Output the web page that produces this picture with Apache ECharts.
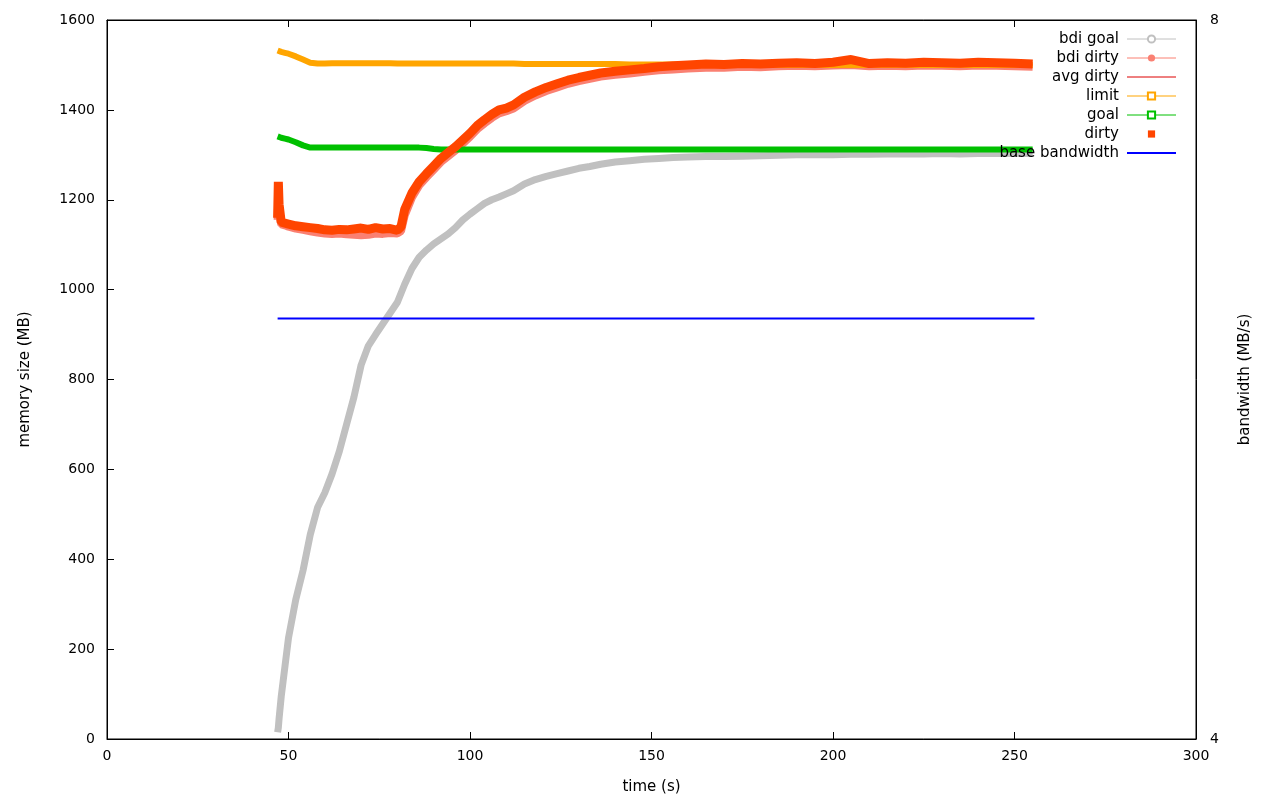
<!DOCTYPE html>
<html>
<head>
<meta charset="utf-8">
<script src="https://cdn.jsdelivr.net/npm/echarts@6/dist/echarts.min.js"></script>
<style>
html,body{margin:0;padding:0;background:#fff;}
#chart{width:1280px;height:800px;}
</style>
</head>
<body>
<div id="chart"></div>
<script>
// time stamps (s)
const times = [47, 47.2, 47.4, 48, 49, 50,
  52, 54, 56, 58, 60, 62, 64, 66, 68, 70, 72, 74, 76, 78, 80,
  81,
  82, 84, 86, 88, 90, 92, 94, 96, 98, 100, 102, 104, 106, 108, 110, 112,
  115, 118, 121, 124, 127, 130, 133, 136,
  140, 144, 148, 152, 156, 160,
  165, 170, 175, 180, 185, 190, 195, 200, 205, 210, 215, 220, 225, 230, 235, 240, 245, 250, 255];

// memory size (MB)
const bdiGoal = [15, 25, 45, 95, 160, 225,
  310, 375, 455, 515, 548, 590, 640, 700, 760, 832, 875, 900, 924, 948, 972,
  992,
  1012, 1047, 1072, 1088, 1102, 1113, 1124, 1138, 1155, 1168, 1180, 1192, 1200, 1206, 1213, 1220,
  1235, 1245, 1252, 1258, 1264, 1270, 1274, 1279,
  1284, 1287, 1290, 1292, 1294, 1295,
  1296, 1296, 1297, 1298, 1299, 1300, 1300, 1300, 1301, 1301, 1302, 1302, 1302, 1303, 1302, 1303, 1303, 1303, 1303];

const bdiDirty = [1155, 1200, 1170, 1145, 1143, 1140,
  1136, 1133, 1130, 1127, 1125, 1124, 1125, 1123, 1122, 1121, 1122, 1125, 1124, 1126, 1125,
  1130,
  1165, 1205, 1232, 1250, 1267, 1284, 1297, 1310, 1325, 1340, 1357, 1370, 1382, 1392, 1397, 1403,
  1420, 1432, 1442, 1450, 1458, 1464, 1469, 1474,
  1478, 1481, 1485, 1488, 1490, 1492,
  1494, 1494, 1496, 1495, 1497, 1498, 1497, 1499, 1500, 1497, 1498, 1497, 1499, 1498, 1497, 1499, 1498, 1497, 1496];

const avgDirty = [1158, 1200, 1175, 1148, 1146, 1144,
  1140, 1138, 1136, 1134, 1132, 1131, 1132, 1131, 1132, 1133, 1132, 1134, 1133, 1134, 1132,
  1138,
  1172, 1210, 1236, 1255, 1272, 1289, 1302, 1315, 1330, 1345, 1362, 1375, 1387, 1397, 1402, 1408,
  1425, 1437, 1447, 1455, 1463, 1469, 1474, 1479,
  1483, 1486, 1490, 1493, 1495, 1497,
  1499, 1499, 1500, 1500, 1501, 1502, 1501, 1503, 1505, 1501, 1502, 1501, 1503, 1502, 1501, 1503, 1502, 1501, 1500];

const limit = [1532, 1531, 1531, 1529, 1527, 1525,
  1519, 1512, 1505, 1503, 1503, 1504, 1504, 1504, 1504, 1504, 1504, 1504, 1504, 1504, 1503,
  1503,
  1503, 1503, 1503, 1503, 1503, 1503, 1503, 1503, 1503, 1503, 1503, 1503, 1503, 1503, 1503, 1503,
  1502, 1502, 1502, 1502, 1502, 1502, 1502, 1502,
  1502, 1501, 1501, 1501, 1501, 1501,
  1501, 1501, 1500, 1500, 1500, 1500, 1500, 1500, 1500, 1500, 1500, 1500, 1500, 1500, 1500, 1500, 1500, 1500, 1500];

const goal = [1341, 1340, 1340, 1338, 1336, 1334,
  1328, 1321, 1316, 1316, 1316, 1316, 1316, 1316, 1316, 1316, 1316, 1316, 1316, 1316, 1316,
  1316,
  1316, 1316, 1316, 1315, 1313, 1312, 1312, 1312, 1312, 1312, 1312, 1312, 1312, 1312, 1312, 1312,
  1312, 1312, 1312, 1312, 1312, 1312, 1312, 1312,
  1312, 1312, 1312, 1312, 1312, 1312,
  1312, 1312, 1312, 1312, 1312, 1312, 1312, 1312, 1312, 1312, 1312, 1312, 1312, 1312, 1312, 1312, 1312, 1312, 1312];

const dirty = [1160, 1240, 1190, 1150, 1148, 1146,
  1142, 1140, 1138, 1136, 1133, 1132, 1134, 1133, 1135, 1137, 1134, 1138, 1135, 1136, 1132,
  1140,
  1178, 1215, 1240, 1258, 1275, 1292, 1305, 1318, 1333, 1348, 1365, 1378, 1390, 1400, 1404, 1411,
  1428, 1440, 1450, 1458, 1466, 1472, 1477, 1482,
  1486, 1489, 1492, 1496, 1498, 1500,
  1502, 1501, 1503, 1502, 1504, 1505, 1503, 1506, 1512, 1503, 1505, 1504, 1506, 1505, 1504, 1506, 1505, 1504, 1502];

// bandwidth (MB/s)
const bwTimes = [47, 255.5];
const baseBandwidth = [6.34, 6.34];

const xTicks = [0, 50, 100, 150, 200, 250, 300];
const yTicks = [0, 200, 400, 600, 800, 1000, 1200, 1400, 1600];
const y2Ticks = [4, 8];

const pairs = (xs, ys) => xs.map((x, i) => [x, ys[i]]);

const FONT = 'DejaVu Sans';
const COLORS = {
  'bdi goal': '#c0c0c0', 'bdi dirty': '#fa8072', 'avg dirty': '#dd0000',
  'limit': '#ffa500', 'goal': '#00c000', 'dirty': '#ff4500', 'base bandwidth': '#0000ff'
};
const chart = echarts.init(document.getElementById('chart'), null, {renderer: 'canvas'});

function lineSeries(name, data, width, symbol, extra) {
  const color = COLORS[name];
  return Object.assign({
    name: name,
    type: 'line',
    data: data,
    symbol: symbol,
    showSymbol: false,
    symbolSize: 6,
    color: color,
    lineStyle: {color: color, width: width},
    itemStyle: {color: color},
    xAxisIndex: 0,
    yAxisIndex: 0,
    animation: false,
    emphasis: {disabled: true}
  }, extra || {});
}

const plain = v => String(v);

const option = {
  animation: false,
  backgroundColor: '#fff',
  grid: {left: 107, right: 84, top: 20, bottom: 60, show: true, borderColor: '#000', borderWidth: 1, backgroundColor: 'transparent'},
  legend: {
    orient: 'vertical',
    align: 'right',
    right: 103,
    top: 31.5,
    padding: 0,
    itemWidth: 49,
    itemHeight: 9,
    itemGap: 4,
    selectedMode: false,
    textStyle: {fontFamily: FONT, fontSize: 15, color: '#000', padding: [0, 3, 0, 0]},
    data: [
      {name: 'bdi goal', lineStyle: {color: COLORS['bdi goal'], width: 1}},
      {name: 'bdi dirty', lineStyle: {color: COLORS['bdi dirty'], width: 1}},
      {name: 'avg dirty', itemStyle: {opacity: 0}, lineStyle: {color: COLORS['avg dirty'], width: 1}},
      {name: 'limit', lineStyle: {color: COLORS['limit'], width: 1}},
      {name: 'goal', lineStyle: {color: COLORS['goal'], width: 1}},
      {name: 'dirty', lineStyle: {color: COLORS['dirty'], opacity: 0}},
      {name: 'base bandwidth', itemStyle: {opacity: 0}, lineStyle: {color: COLORS['base bandwidth'], width: 2}}
    ]
  },
  xAxis: [{
    type: 'value', min: xTicks[0], max: xTicks[xTicks.length - 1], interval: 50,
    position: 'bottom',
    name: 'time (s)', nameLocation: 'middle', nameGap: 41,
    nameTextStyle: {fontFamily: FONT, fontSize: 15, color: '#000'},
    axisLine: {onZero: false, lineStyle: {color: '#000'}},
    axisTick: {inside: true, length: 7, lineStyle: {color: '#000'}},
    axisLabel: {fontFamily: FONT, fontSize: 14, color: '#000', margin: 10, formatter: plain},
    splitLine: {show: false}
  }, {
    type: 'value', min: xTicks[0], max: xTicks[xTicks.length - 1], interval: 50,
    position: 'top',
    axisLine: {onZero: false, lineStyle: {color: '#000'}},
    axisTick: {inside: true, length: 7, lineStyle: {color: '#000'}},
    axisLabel: {show: false},
    splitLine: {show: false}
  }],
  yAxis: [{
    type: 'value', min: yTicks[0], max: yTicks[yTicks.length - 1], interval: 200,
    position: 'left',
    name: 'memory size (MB)', nameLocation: 'middle', nameGap: 74,
    nameTextStyle: {fontFamily: FONT, fontSize: 15, color: '#000'},
    axisLine: {onZero: false, lineStyle: {color: '#000'}},
    axisTick: {inside: true, length: 7, lineStyle: {color: '#000'}},
    axisLabel: {fontFamily: FONT, fontSize: 14, color: '#000', margin: 12, formatter: plain},
    splitLine: {show: false}
  }, {
    type: 'value', min: y2Ticks[0], max: y2Ticks[1], interval: 4,
    position: 'right',
    name: 'bandwidth (MB/s)', nameLocation: 'middle', nameGap: 42,
    nameTextStyle: {fontFamily: FONT, fontSize: 15, color: '#000'},
    axisLine: {onZero: false, lineStyle: {color: '#000'}},
    axisTick: {inside: true, length: 7, lineStyle: {color: '#000'}},
    axisLabel: {fontFamily: FONT, fontSize: 14, color: '#000', margin: 14, formatter: plain},
    splitLine: {show: false}
  }],
  series: [
    lineSeries('bdi goal', pairs(times, bdiGoal), 7, 'emptyCircle'),
    lineSeries('bdi dirty', pairs(times, bdiDirty), 8, 'circle'),
    lineSeries('avg dirty', pairs(times, avgDirty), 1, 'none'),
    lineSeries('limit', pairs(times, limit), 6, 'emptyRect'),
    lineSeries('goal', pairs(times, goal), 6, 'emptyRect'),
    lineSeries('dirty', pairs(times, dirty), 9, 'rect'),
    lineSeries('base bandwidth', pairs(bwTimes, baseBandwidth), 2, 'none', {yAxisIndex: 1})
  ]
};
chart.setOption(option);
</script>
</body>
</html>
